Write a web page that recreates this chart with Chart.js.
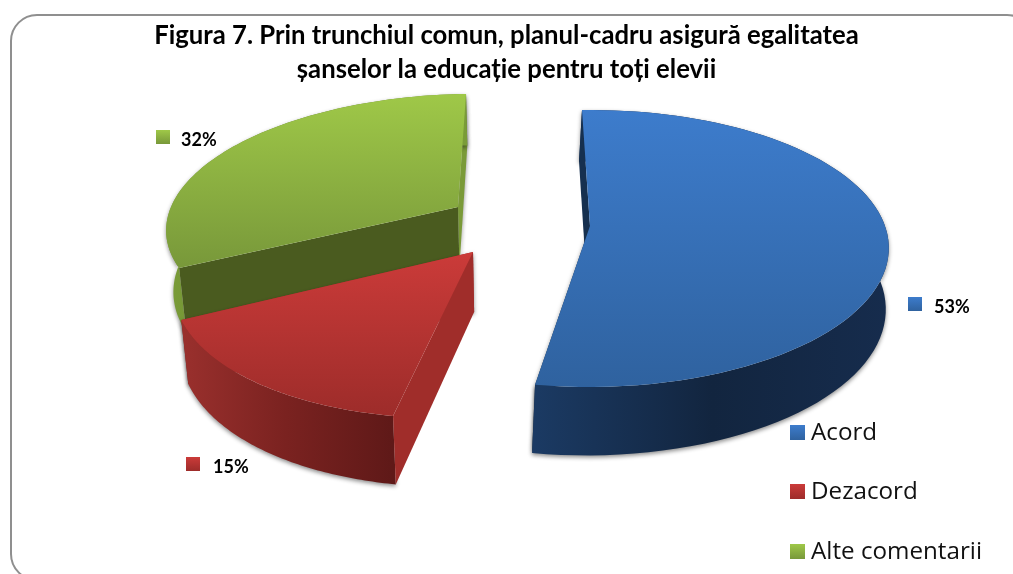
<!DOCTYPE html>
<html lang="ro">
<head>
  <meta charset="UTF-8" />
  <title>Figura 7</title>
  <script src="https://cdn.jsdelivr.net/npm/chart.js@4.4.0/dist/chart.umd.min.js"></script>
  <style>
    *{box-sizing:border-box;margin:0;padding:0}
    html,body{background:#fff;overflow:hidden}
    canvas{display:block}
  </style>
</head>
<body>
<canvas id="pie" width="1013" height="574"></canvas>
<script>
// data
const categories=['Acord','Dezacord','Alte comentarii'];
const values=[53,15,32];
const titleLines=['Figura 7. Prin trunchiul comun, planul-cadru asigură egalitatea','șanselor la educație pentru toți elevii'];

// look of each slice: top face, cut faces, outer wall
const looks=[
  {top:['#3d7ccc','#2f629f'],cut:'#16304f',cutEnd:'#16304f',wall:['#1b3a63','#12253f','#162c4d'],key:['#3d7ccc','#2f629f']},
  {top:['#cb3b39','#9d2c2a'],cut:'#a02d2a',cutEnd:'#a02d2a',wall:['#9a302d','#7a2220','#5f1918'],key:['#cb3b39','#9d2c2a']},
  {top:['#9fc848','#78983a'],cut:'#4a5b1f',cutEnd:'#7a9a38',wall:['#7a9c38','#5f7d2a','#7a9c38'],key:['#9fc848','#78983a']}
];
// perspective of each exploded slice on the page (x0,y0 = apex)
const views=[
  {x0:590,y0:226,R:295,a:134.8,c:.1625,s:-1,y1:110,y2:387,cx:0,k:1,dx:-3,wallEnd:889},
  {x0:473,y0:252,R:290,a:136.6,c:.179,s:-21.7,y1:252,y2:416,cx:530,k:.98,dx:0,wallEnd:392},
  {x0:458,y0:207,R:287,a:126.4,c:.117,s:-19,y1:94,y2:268,cx:530,k:.98,dx:0,wallEnd:465}
];
const DEPTH=60,DEPTH_V=8.5;
const pctSpots=[{x:908,y:297,tx:934},{x:186,y:457,tx:213},{x:156,y:130,tx:181}];
const legendSpots=[{x:790,y:425},{x:790,y:484},{x:790,y:544}];

function project(w,ang){
  const u=Math.cos(ang),v=Math.sin(ang),d=1-w.c*v;
  return {x:w.x0+(w.R*u+w.s*v)/d,y:w.y0+w.a*v/d,v};
}
function under(w,p,v){
  return {x:w.cx+(p.x-w.cx)*w.k+w.dx,y:p.y+DEPTH+DEPTH_V*v};
}
function poly(ctx,pts){
  ctx.beginPath();
  pts.forEach((p,i)=>i?ctx.lineTo(p.x,p.y):ctx.moveTo(p.x,p.y));
  ctx.closePath();
}
function grad(ctx,x1,y1,x2,y2,cols){
  const g=ctx.createLinearGradient(x1,y1,x2,y2);
  cols.forEach((c,i)=>g.addColorStop(i/(cols.length-1),c));
  return g;
}

const pie3d={
  id:'pie3d',
  beforeDraw(chart){
    const ctx=chart.ctx;
    ctx.save();
    ctx.strokeStyle='#8f8f8f';ctx.lineWidth=2;
    ctx.beginPath();ctx.roundRect(11,15,1022,565,26);ctx.stroke();
    ctx.restore();
  },
  beforeDatasetDraw(chart){
    const ctx=chart.ctx,arcs=chart.getDatasetMeta(0).data;
    // back to front
    [2,1,0].forEach(i=>{
      const arc=arcs[i],w=views[i],look=looks[i];
      const rim=[];
      for(let k=0;k<=80;k++)rim.push(project(w,arc.startAngle+(arc.endAngle-arc.startAngle)*k/80));
      const apex={x:w.x0,y:w.y0,v:0};
      const low=rim.map(p=>under(w,p,p.v)),lowApex=under(w,apex,0);
      ctx.save();
      ctx.shadowColor='rgba(0,0,0,.45)';ctx.shadowBlur=4;ctx.shadowOffsetY=2;
      const xs=rim.map(p=>p.x),minX=Math.min(...xs);
      ctx.fillStyle=look.cutEnd;
      poly(ctx,[apex,rim[80],low[80],lowApex]);ctx.fill();
      ctx.fillStyle=grad(ctx,minX,0,w.wallEnd,0,look.wall);
      poly(ctx,rim.concat(low.slice().reverse()));ctx.fill();
      ctx.shadowColor='transparent';
      ctx.fillStyle=look.cut;
      poly(ctx,[apex,rim[0],low[0],lowApex]);ctx.fill();
      ctx.restore();
      ctx.fillStyle=grad(ctx,0,w.y1,0,w.y2,look.top);
      poly(ctx,[apex].concat(rim));ctx.fill();
    });
    return false;
  },
  afterDraw(chart){
    const ctx=chart.ctx;
    ctx.save();
    ctx.textBaseline='middle';
    values.forEach((val,i)=>{
      const s=pctSpots[i];
      ctx.fillStyle=grad(ctx,0,s.y,0,s.y+14,looks[i].key);
      ctx.fillRect(s.x,s.y,14,14);
      ctx.fillStyle='#000';
      ctx.font='bold 18px Lato';
      ctx.fillText(val+'%',s.tx,s.y+10);
    });
    categories.forEach((name,i)=>{
      const s=legendSpots[i];
      ctx.fillStyle=grad(ctx,0,s.y,0,s.y+15,looks[i].key);
      ctx.fillRect(s.x,s.y,15,15);
      ctx.fillStyle='#111';
      ctx.font='24.2px "Open Sans"';
      ctx.fillText(name,s.x+21,s.y+8);
    });
    ctx.restore();
  }
};

new Chart('pie',{
  type:'pie',
  data:{labels:categories,datasets:[{data:values}]},
  options:{
    responsive:false,
    animation:false,
    rotation:-2,
    layout:{padding:0},
    plugins:{
      legend:{display:false},
      tooltip:{enabled:false},
      title:{display:true,text:titleLines,color:'#000',font:{family:'Lato',size:25.7,weight:'bold',lineHeight:1.32},padding:{top:19,bottom:0}}
    }
  },
  plugins:[pie3d]
});
</script>
</body>
</html>
